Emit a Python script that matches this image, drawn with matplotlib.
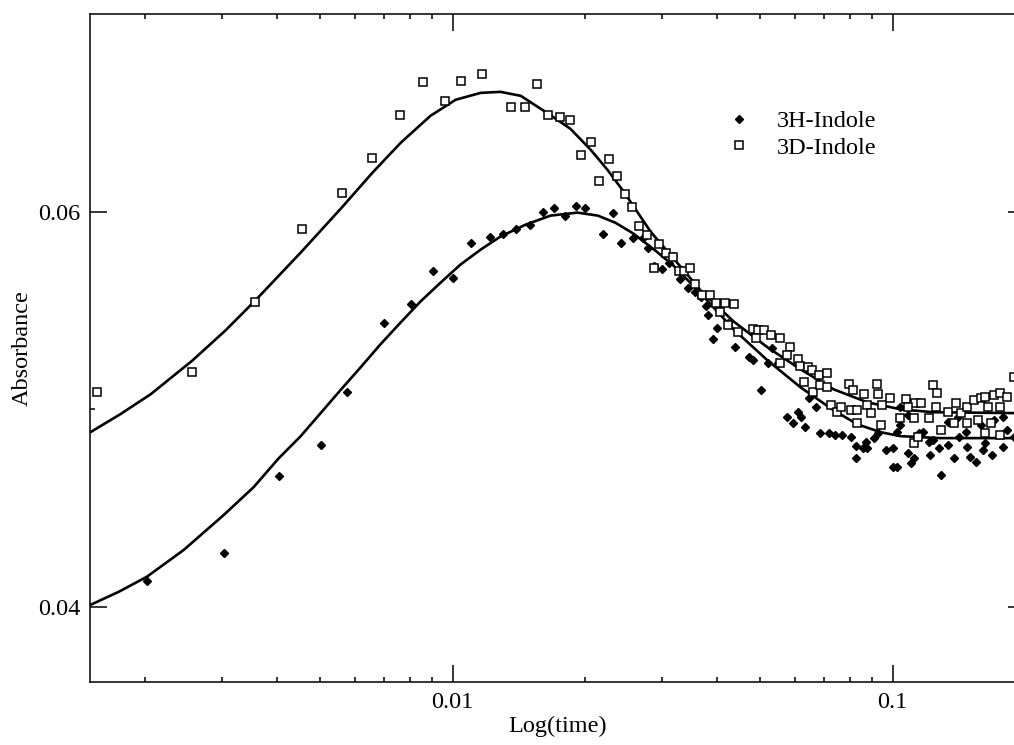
import numpy as np
import matplotlib
matplotlib.use("Agg")
import matplotlib.pyplot as plt
from matplotlib.ticker import LogLocator, NullFormatter

plt.rcParams['font.family'] = ['Liberation Serif', 'DejaVu Serif']

# log10(time) and absorbance
h_logt = [-2.695, -2.520, -2.395, -2.300, -2.239, -2.155, -2.095, -2.045, -1.998, -1.959,
          -1.914, -1.886, -1.855, -1.825, -1.795, -1.770, -1.745, -1.720, -1.698, -1.659,
          -1.636, -1.618, -1.589, -1.568, -1.555, -1.543, -1.523, -1.509, -1.498, -1.482,
          -1.464, -1.448, -1.436, -1.425, -1.420, -1.398, -1.375, -1.409, -1.357, -1.327,
          -1.318, -1.284, -1.273, -1.261, -1.300, -1.239, -1.216, -1.227, -1.209, -1.198,
          -1.191, -1.175, -1.164, -1.145, -1.130, -1.114, -1.095, -1.084, -1.068, -1.061,
          -1.057, -1.084, -1.043, -1.032, -1.016, -1.000, -0.989, -0.982, -0.989, -1.000,
          -0.964, -0.952, -0.959, -0.941, -0.930, -0.918, -0.907, -0.914, -0.895, -0.891,
          -0.873, -0.861, -0.850, -0.830, -0.823, -0.811, -0.795, -0.789, -0.773, -0.750,
          -0.739, -0.725, -0.834, -0.800, -0.770, -0.748, -0.982, -0.966, -0.875, -0.852]
h_abs = [0.04131, 0.04273, 0.04662, 0.04818, 0.05086, 0.05434, 0.05535, 0.05702, 0.05662, 0.05843,
         0.05874, 0.05889, 0.05914, 0.05934, 0.06000, 0.06020, 0.05980, 0.06030, 0.06020, 0.05889,
         0.05995, 0.05843, 0.05869, 0.05869, 0.05818, 0.05727, 0.05712, 0.05742, 0.05778, 0.05657,
         0.05616, 0.05591, 0.05566, 0.05525, 0.05475, 0.05409, 0.05439, 0.05354, 0.05313, 0.05263,
         0.05247, 0.05232, 0.05308, 0.05232, 0.05096, 0.04960, 0.04985, 0.04929, 0.04960, 0.04909,
         0.05056, 0.05010, 0.04879, 0.04879, 0.04869, 0.04869, 0.04859, 0.04813, 0.04803, 0.04833,
         0.04803, 0.04753, 0.04854, 0.04879, 0.04793, 0.04803, 0.04884, 0.04919, 0.04707, 0.04707,
         0.04778, 0.04753, 0.04727, 0.04879, 0.04884, 0.04833, 0.04843, 0.04768, 0.04803, 0.04667,
         0.04818, 0.04753, 0.04859, 0.04808, 0.04758, 0.04732, 0.04793, 0.04828, 0.04768, 0.04808,
         0.04894, 0.04859, 0.04884, 0.04919, 0.04944, 0.04960, 0.05010, 0.04970, 0.04934, 0.04960]

d_logt = [-2.809, -2.591, -2.448, -2.341, -2.252, -2.182, -2.120, -2.066, -2.018, -1.980,
          -1.934, -1.866, -1.836, -1.807, -1.782, -1.755, -1.732, -1.709, -1.686, -1.666,
          -1.645, -1.627, -1.609, -1.591, -1.577, -1.559, -1.543, -1.530, -1.514, -1.498,
          -1.486, -1.475, -1.461, -1.450, -1.432, -1.414, -1.402, -1.380, -1.361, -1.391,
          -1.373, -1.352, -1.318, -1.305, -1.293, -1.277, -1.255, -1.311, -1.232, -1.239,
          -1.216, -1.211, -1.193, -1.182, -1.168, -1.150, -1.255, -1.202, -1.180, -1.164,
          -1.148, -1.141, -1.127, -1.118, -1.100, -1.089, -1.066, -1.095, -1.080, -1.057,
          -1.050, -1.036, -1.032, -1.080, -1.027, -1.005, -1.023, -0.970, -0.982, -0.948,
          -0.936, -0.964, -0.952, -0.918, -0.907, -0.898, -0.902, -0.875, -0.855, -0.845,
          -0.830, -0.816, -0.800, -0.789, -0.770, -0.755, -0.739, -0.725, -0.784, -0.755,
          -0.805, -0.777, -0.830, -0.861, -0.891, -0.952, -0.943, -0.789, -0.755]
d_abs = [0.05086, 0.05187, 0.05545, 0.05914, 0.06096, 0.06273, 0.06490, 0.06657, 0.06561, 0.06662,
         0.06697, 0.06530, 0.06530, 0.06646, 0.06490, 0.06480, 0.06465, 0.06288, 0.06354, 0.06157,
         0.06268, 0.06182, 0.06091, 0.06025, 0.05929, 0.05884, 0.05717, 0.05838, 0.05793, 0.05768,
         0.05702, 0.05702, 0.05717, 0.05636, 0.05576, 0.05576, 0.05540, 0.05540, 0.05535, 0.05490,
         0.05424, 0.05389, 0.05404, 0.05399, 0.05399, 0.05374, 0.05359, 0.05359, 0.05313, 0.05273,
         0.05253, 0.05217, 0.05212, 0.05197, 0.05172, 0.05182, 0.05232, 0.05136, 0.05086, 0.05121,
         0.05111, 0.05020, 0.04985, 0.05010, 0.05126, 0.05096, 0.05076, 0.04995, 0.04995, 0.05020,
         0.04980, 0.05126, 0.05076, 0.04929, 0.04919, 0.05056, 0.05020, 0.05051, 0.04955, 0.05030,
         0.05030, 0.05010, 0.04955, 0.04955, 0.05121, 0.05081, 0.05010, 0.04985, 0.05030, 0.04980,
         0.05010, 0.05045, 0.05056, 0.05061, 0.05071, 0.05081, 0.05061, 0.05162, 0.05010, 0.05010,
         0.04944, 0.04929, 0.04929, 0.04929, 0.04894, 0.04828, 0.04859, 0.04879, 0.04869]

# fitted curves
h_fit_logt = [-2.823, -2.759, -2.695, -2.611, -2.520, -2.452, -2.395, -2.345, -2.300, -2.255,
              -2.209, -2.164, -2.118, -2.073, -2.027, -1.982, -1.936, -1.891, -1.834, -1.777,
              -1.716, -1.670, -1.630, -1.589, -1.539, -1.498, -1.436, -1.361, -1.284, -1.209,
              -1.134, -1.080, -1.027, -0.982, -0.891, -0.698]
h_fit_abs = [0.04010, 0.04076, 0.04152, 0.04288, 0.04465, 0.04606, 0.04752, 0.04864, 0.04980, 0.05096,
             0.05212, 0.05328, 0.05439, 0.05545, 0.05641, 0.05732, 0.05808, 0.05874, 0.05934, 0.05980,
             0.05995, 0.05980, 0.05944, 0.05889, 0.05803, 0.05727, 0.05586, 0.05404, 0.05247, 0.05111,
             0.04995, 0.04924, 0.04884, 0.04864, 0.04854, 0.04854]

d_fit_logt = [-2.823, -2.755, -2.686, -2.591, -2.516, -2.448, -2.345, -2.252, -2.182, -2.118,
              -2.050, -1.993, -1.936, -1.891, -1.845, -1.782, -1.732, -1.686, -1.648, -1.611,
              -1.550, -1.482, -1.436, -1.361, -1.284, -1.209, -1.134, -1.057, -0.982, -0.907,
              -0.698]
d_fit_abs = [0.04884, 0.04975, 0.05076, 0.05247, 0.05399, 0.05551, 0.05793, 0.06020, 0.06197, 0.06348,
             0.06485, 0.06566, 0.06601, 0.06606, 0.06586, 0.06495, 0.06419, 0.06313, 0.06212, 0.06101,
             0.05899, 0.05722, 0.05601, 0.05444, 0.05313, 0.05202, 0.05101, 0.05035, 0.05000, 0.04985,
             0.04980]

fig = plt.figure(figsize=(10.14, 7.45), dpi=100)
ax = fig.add_axes([90/1014, 63/745, 935/1014, 668/745])

ax.plot(10**np.array(h_fit_logt), h_fit_abs, color='black', lw=1.9)
ax.plot(10**np.array(d_fit_logt), d_fit_abs, color='black', lw=1.9)
ax.plot(10**np.array(h_logt), h_abs, ls='none', marker='D', ms=4.3, color='black', label='3H-Indole')
ax.plot(10**np.array(d_logt), d_abs, ls='none', marker='s', ms=6, mfc='white', mec='black',
        mew=1.1, label='3D-Indole')

ax.set_xscale('log')
ax.set_xlim(0.0015, 0.2)
ax.set_ylim(0.0362, 0.07)
ax.set_xticks([0.01, 0.1])
ax.set_xticklabels(['0.01', '0.1'])
ax.xaxis.set_minor_locator(LogLocator(subs=np.arange(2, 10)))
ax.xaxis.set_minor_formatter(NullFormatter())
ax.set_yticks([0.04, 0.06])
ax.set_yticklabels(['0.04', '0.06'])
ax.set_yticks([0.05], minor=True)

ax.tick_params(which='both', direction='in', top=True, right=True, labelsize=17.5, width=1.1)
ax.tick_params(which='major', length=12.5, pad=7)
ax.tick_params(which='minor', length=3.5)
for s in ax.spines.values():
    s.set_linewidth(1.1)

ax.set_xlabel('Log(time)', fontsize=17.5, labelpad=2)
ax.set_ylabel('Absorbance', fontsize=17.5, labelpad=4)

ax.legend(loc='upper left', bbox_to_anchor=(729/1014, 1 - 110/745), bbox_transform=fig.transFigure,
          frameon=False, fontsize=17.5, numpoints=1, handlelength=0.8, handletextpad=1.15,
          labelspacing=0.2, borderpad=0, borderaxespad=0)

fig.savefig('out.png', dpi=100)
